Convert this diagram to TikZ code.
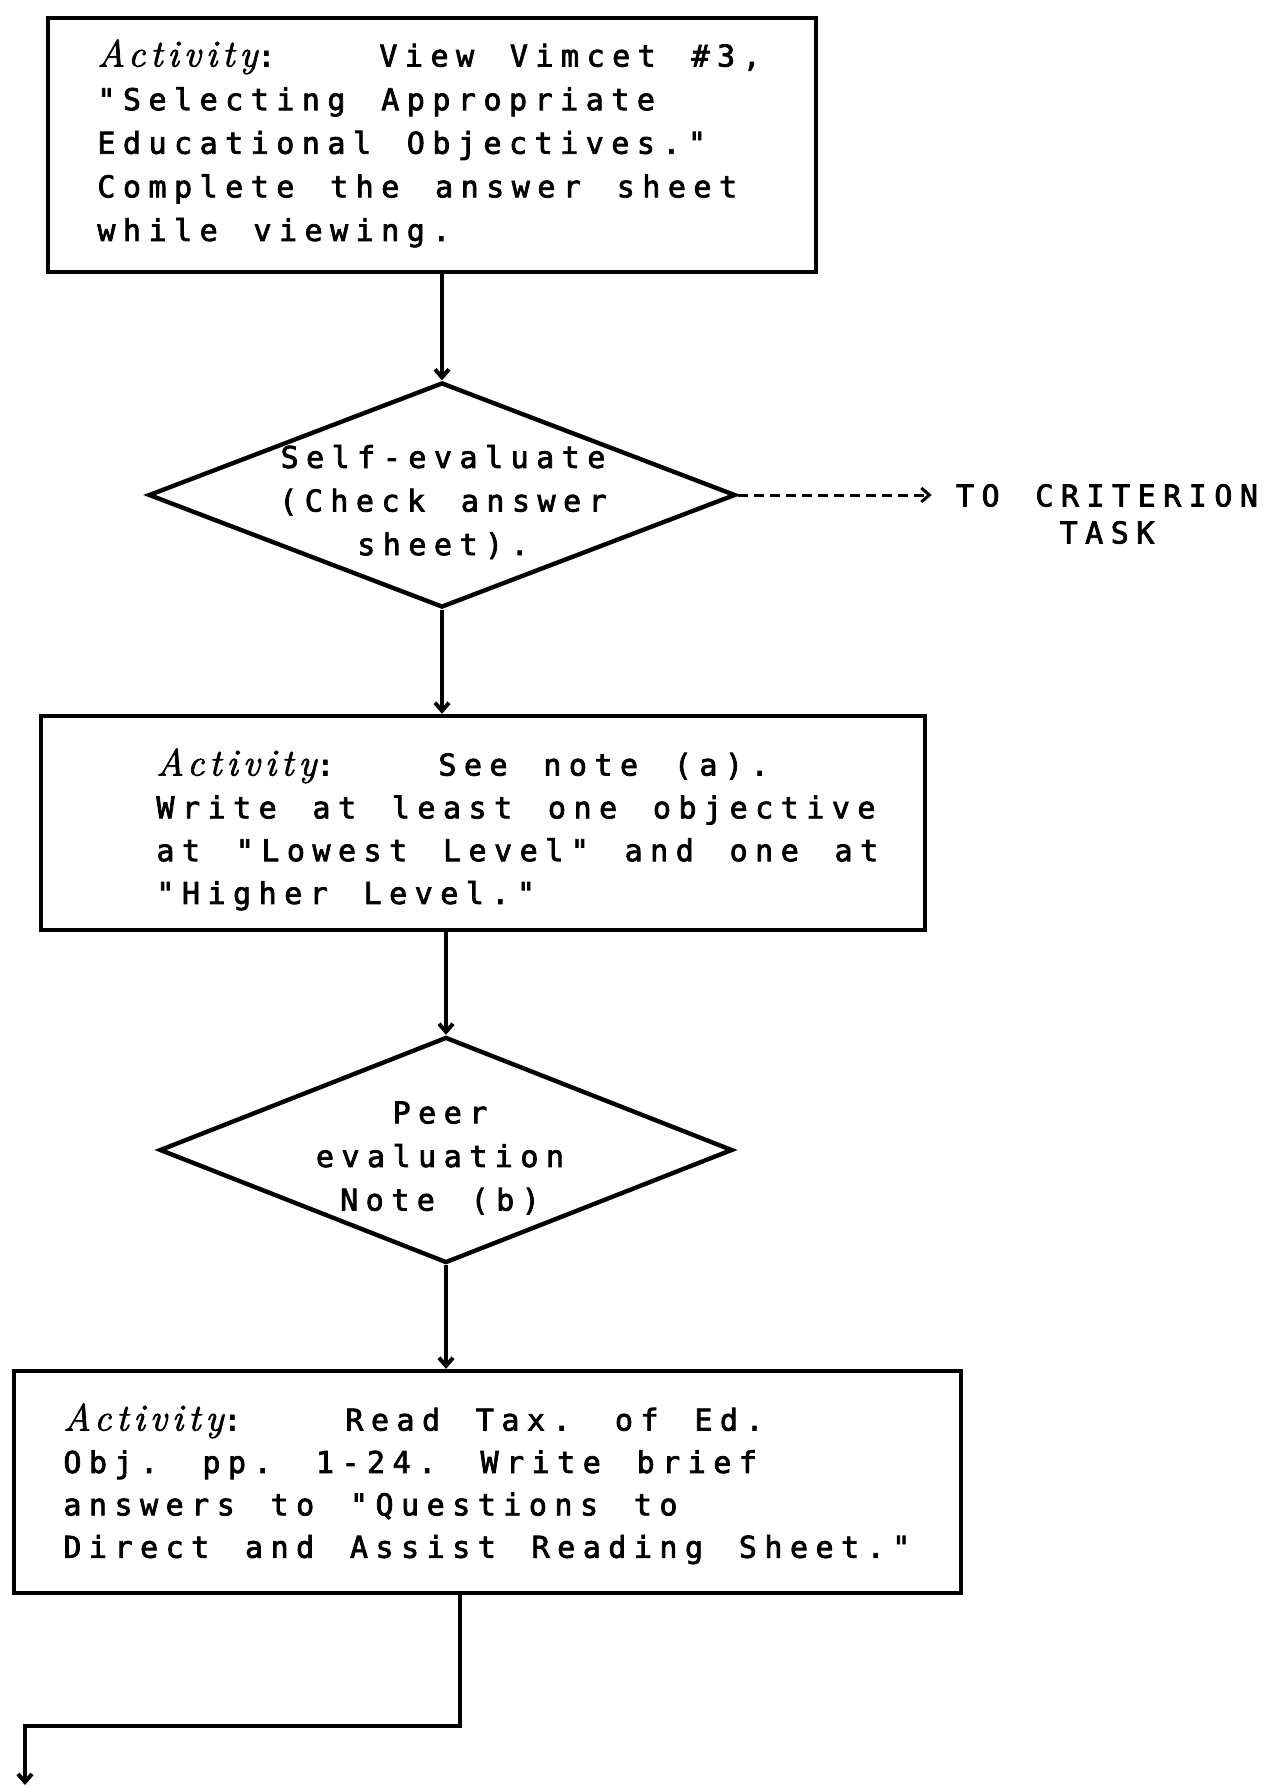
\documentclass[tikz,border=0pt]{standalone}
\usepackage{fontspec}
\usetikzlibrary{shapes.geometric,arrows.meta}
\newfontfamily\typer[LetterSpace=25,WordSpace=1.4,FakeBold=2.5]{DejaVu Sans Mono}
\newfontfamily\actfont[LetterSpace=13,FakeBold=2]{Latin Modern Roman}
\newcommand{\actword}{\makebox[141pt][l]{{\actfont\itshape\fontsize{19}{22}\selectfont Activity}:}}
\begin{document}
\begin{tikzpicture}[x=0.5pt,y=-0.5pt,
  box/.style={draw, line width=2.2pt, inner sep=0},
  decision/.style={diamond, draw, line width=2.2pt, inner sep=0},
  words/.style={inner sep=0, align=left, font=\typer\fontsize{15}{21.8}\selectfont},
  flow/.style={line width=2pt, -{Straight Barb[length=4pt,width=7pt]}}]
\useasboundingbox (0,0) rectangle (1274,1787);
% boxes and decisions
\node[box, minimum width=384pt, minimum height=127pt] (act1) at (432,145){};
\node[words, anchor=north west] (act1txt) at (97,39){\actword View Vimcet \#3,\\"Selecting Appropriate\\Educational Objectives."\\Complete the answer sheet\\while viewing.};
\node[decision, minimum width=293.5pt, minimum height=112.5pt] (eval1) at (442,495){};
\node[words, align=center] (eval1txt) at (443,502){Self-evaluate\\(Check answer\\sheet).};
\node[box, minimum width=442pt, minimum height=107pt] (act2) at (483,823){};
\node[words, anchor=north west, font=\typer\fontsize{15}{21.4}\selectfont] (act2txt) at (156,748){\actword See note (a).\\Write at least one objective\\at "Lowest Level" and one at\\"Higher Level."};
\node[decision, minimum width=286.5pt, minimum height=113pt] (eval2) at (446,1150){};
\node[words, align=center] (eval2txt) at (440,1158){Peer\\evaluation\\Note (b)};
\node[box, minimum width=473.5pt, minimum height=111pt] (act3) at (487.5,1482){};
\node[words, anchor=north west, font=\typer\fontsize{15}{21.2}\selectfont] (act3txt) at (63,1403){\actword Read Tax. of Ed.\\Obj. pp. 1-24.  Write brief\\answers to "Questions to\\Direct and Assist Reading Sheet."};
\node[words, align=center, font=\typer\fontsize{15}{18.5}\selectfont] (crit) at (1107,514){TO CRITERION\\TASK};
% connectors
\draw[flow] (act1.south -| eval1.north) -- (eval1.north);
\draw[flow, dashed, dash pattern=on 5pt off 3pt, line width=1.5pt, shorten >=12pt] (eval1.east) -- (eval1.east -| crit.west);
\draw[flow] (eval1.south) -- (eval1.south |- act2.north);
\draw[flow] (act2.south -| eval2.north) -- (eval2.north);
\draw[flow] (eval2.south) -- (eval2.south |- act3.north);
\coordinate (bend1) at (460,1726);
\coordinate (bend2) at (25,1726);
\coordinate (exit) at (25,1785);
\draw[flow] (act3.south -| bend1) -- (bend1) -- (bend2) -- (exit);
\end{tikzpicture}
\end{document}
